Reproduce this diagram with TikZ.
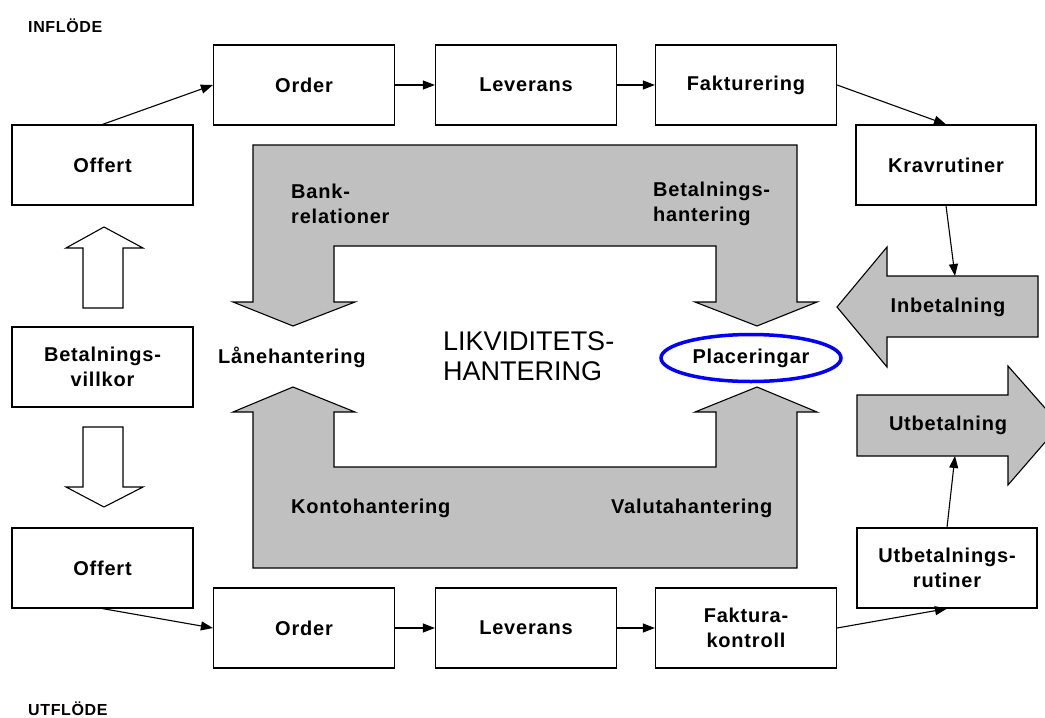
\documentclass[tikz,border=0pt]{standalone}
\usepackage{fontspec}
\setmainfont{Liberation Sans}[LetterSpace=4]
\newfontfamily\plainfont{Liberation Sans}
\usetikzlibrary{arrows.meta,shapes.geometric}
\definecolor{panelgrey}{RGB}{192,192,192}
\definecolor{ringblue}{RGB}{0,0,255}
\begin{document}
\begin{tikzpicture}[x=1pt,y=-1pt,
  txt/.style={font=\fontsize{20}{25}\selectfont\bfseries},
  box/.style={txt, draw, line width=1.2pt, fill=white, minimum width=181pt,
    minimum height=80pt, align=center, inner sep=0pt},
  lbl/.style={txt, align=left, anchor=west, inner sep=0pt},
  flow/.style={-{Triangle[length=12pt,width=9pt]}, line width=1.1pt},
  panel/.style={fill=panelgrey, draw=black, line width=1.1pt, line join=miter},
  hollow/.style={fill=white, draw=black, line width=1.1pt},
  heading/.style={font=\fontsize{16}{18}\selectfont\bfseries, anchor=west, inner sep=0pt}]
\useasboundingbox (0,0) rectangle (1045,718);
\clip (0,0) rectangle (1045,718);

% section headings
\node[heading] (inflode) at (28,26) {INFLÖDE};
\node[heading] (utflode) at (28,709) {UTFLÖDE};

% central liquidity panels
\path[panel] (253,145) -- (797,145) -- (797,302) -- (817,302) -- (757,326)
  -- (695,302) -- (716,302) -- (716,246) -- (334,246) -- (334,302)
  -- (355,302) -- (293,326) -- (233,302) -- (253,302) -- cycle;
\path[panel] (253,568) -- (797,568) -- (797,412) -- (817,412) -- (757,387)
  -- (695,412) -- (716,412) -- (716,467) -- (334,467) -- (334,412)
  -- (355,412) -- (293,387) -- (233,412) -- (253,412) -- cycle;

\node[lbl] (bank) at (291,204) {Bank-\\relationer};
\node[lbl] (betah) at (653,204) {Betalnings-\\hantering};
\node[lbl] (lane) at (218,357) {Lånehantering};
\node[lbl] (konto) at (291,508) {Kontohantering};
\node[lbl] (valuta) at (611,508) {Valutahantering};
\node[anchor=west, align=left, inner sep=0pt,
  font=\fontsize{27}{30}\plainfont] (likv) at (443,356) {LIKVIDITETS-\\HANTERING};
\node[txt, ellipse, draw=ringblue, line width=3.5pt, minimum width=180pt,
  minimum height=47pt, inner sep=0pt] (plac) at (751,358) {Placeringar};

% incoming and outgoing payments
\path[panel] (1038,276) -- (887,276) -- (887,247) -- (837,307) -- (887,367)
  -- (887,337) -- (1038,337) -- cycle;
\coordinate (inTop) at (955,276);
\node[txt] (inbet) at (948,307) {Inbetalning};
\path[panel] (857,395) -- (1008,395) -- (1008,366) -- (1060,425) -- (1008,485)
  -- (1008,456) -- (857,456) -- cycle;
\coordinate (utBot) at (955,456);
\node[txt] (utbet) at (948,425) {Utbetalning};

% payment terms column
\path[hollow] (83,308) -- (83,248) -- (66,248) -- (104,227) -- (143,248)
  -- (123,248) -- (123,308) -- cycle;
\path[hollow] (83,427) -- (123,427) -- (123,487) -- (143,487) -- (104,507)
  -- (66,487) -- (83,487) -- cycle;

% process boxes
\node[box] (offert1) at (102.5,165) {Offert};
\node[box] (villkor) at (102.5,367) {Betalnings-\\villkor};
\node[box] (offert2) at (102.5,568) {Offert};
\node[box] (order1) at (304,85) {Order};
\node[box] (lev1) at (526,85) {Leverans};
\node[box] (fakt1) at (746,85) {Fakturering};
\node[box, minimum width=180pt] (krav) at (946,165) {Kravrutiner};
\node[box] (order2) at (304,628) {Order};
\node[box] (lev2) at (526,628) {Leverans};
\node[box] (fakt2) at (746,628) {Faktura-\\kontroll};
\node[box, minimum width=180pt] (utrut) at (947,568) {Utbetalnings-\\rutiner};

% flow connectors
\draw[flow] (offert1.north) -- (order1.west);
\draw[flow] (order1) -- (lev1);
\draw[flow] (lev1) -- (fakt1);
\draw[flow] (fakt1.east) -- (krav.north);
\draw[flow] (krav.south) -- (inTop);
\draw[flow] (offert2.south) -- (order2.west);
\draw[flow] (order2) -- (lev2);
\draw[flow] (lev2) -- (fakt2);
\draw[flow] (fakt2.east) -- (utrut.south);
\draw[flow] (utrut.north) -- (utBot);
\end{tikzpicture}
\end{document}
